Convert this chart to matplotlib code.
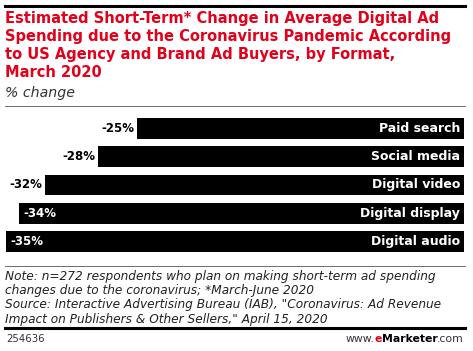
import matplotlib
matplotlib.use("Agg")
import matplotlib.pyplot as plt
from matplotlib.lines import Line2D

W, H = 473, 351

categories = ["Paid search", "Social media", "Digital video", "Digital display", "Digital audio"]
values = [-25, -28, -32, -34, -35]
value_labels = ["-25%", "-28%", "-32%", "-34%", "-35%"]

title = ("Estimated Short-Term* Change in Average Digital Ad\n"
         "Spending due to the Coronavirus Pandemic According\n"
         "to US Agency and Brand Ad Buyers, by Format,\n"
         "March 2020")
subtitle = "% change"
note = ("Note: n=272 respondents who plan on making short-term ad spending\n"
        "changes due to the coronavirus; *March-June 2020\n"
        "Source: Interactive Advertising Bureau (IAB), \"Coronavirus: Ad Revenue\n"
        "Impact on Publishers & Other Sellers,\" April 15, 2020")
chart_id = "254636"

RED = "#e2001a"
FONT = "DejaVu Sans"


def fx(px):
    return px / W


def fy(py):
    return 1 - py / H


def hline(y, x0, x1, lw, color):
    fig.add_artist(Line2D([fx(x0), fx(x1)], [fy(y), fy(y)], lw=lw, color=color,
                          transform=fig.transFigure))


fig = plt.figure(figsize=(W / 100, H / 100), dpi=100)
fig.patch.set_facecolor("white")

# header
hline(5.5, 5, 465, 2.2, "black")
fig.text(fx(5), fy(11.5), title, ha="left", va="top", color=RED, fontsize=10.5,
         fontweight="bold", family=FONT, linespacing=1.24)
fig.text(fx(5), fy(92.5), subtitle, ha="left", va="center", color="#333333", fontsize=10.2,
         style="italic", family=FONT)
hline(106, 5, 465, 0.6, "#555555")

# bars
ax = fig.add_axes([fx(6), fy(255.6), fx(464) - fx(6), (255.6 - 114.4) / H])
ypos = range(len(categories))
ax.barh(ypos, values, height=0.74, color="black")
ax.set_xlim(-35, 0)
ax.set_ylim(len(categories) - 0.5, -0.5)
ax.axis("off")

for i, (cat, v, lab) in enumerate(zip(categories, values, value_labels)):
    ax.text(-0.3, i, cat, ha="right", va="center", color="white", fontsize=9,
            fontweight="bold", family=FONT)
    if v > -33:
        ax.text(v - 0.2, i, lab, ha="right", va="center", color="black", fontsize=8.5,
                fontweight="bold", family=FONT)
    else:
        ax.text(v + 0.3, i, lab, ha="left", va="center", color="white", fontsize=8.5,
                fontweight="bold", family=FONT)

# footer
hline(266, 5, 465, 0.6, "#555555")
fig.text(fx(5), fy(270), note, ha="left", va="top", color="#222222", fontsize=8.7,
         style="italic", family=FONT, linespacing=1.12)
hline(328, 5, 465, 2.2, "black")
fig.text(fx(6), fy(339), chart_id, ha="left", va="center", color="#333333", fontsize=7.3,
         family=FONT)

# www.eMarketer.com, pieces laid out right to left
renderer = fig.canvas.get_renderer()
pieces = [(".com", "#333333", "normal"), ("Marketer", "black", "bold"),
          ("e", RED, "bold"), ("www.", "#333333", "normal")]
x = 464
for txt, col, wt in pieces:
    t = fig.text(fx(x), fy(339), txt, ha="right", va="center", fontsize=7.8,
                 family=FONT, color=col, fontweight=wt)
    bb = t.get_window_extent(renderer)
    x -= bb.width

fig.savefig("out.png", dpi=100)
